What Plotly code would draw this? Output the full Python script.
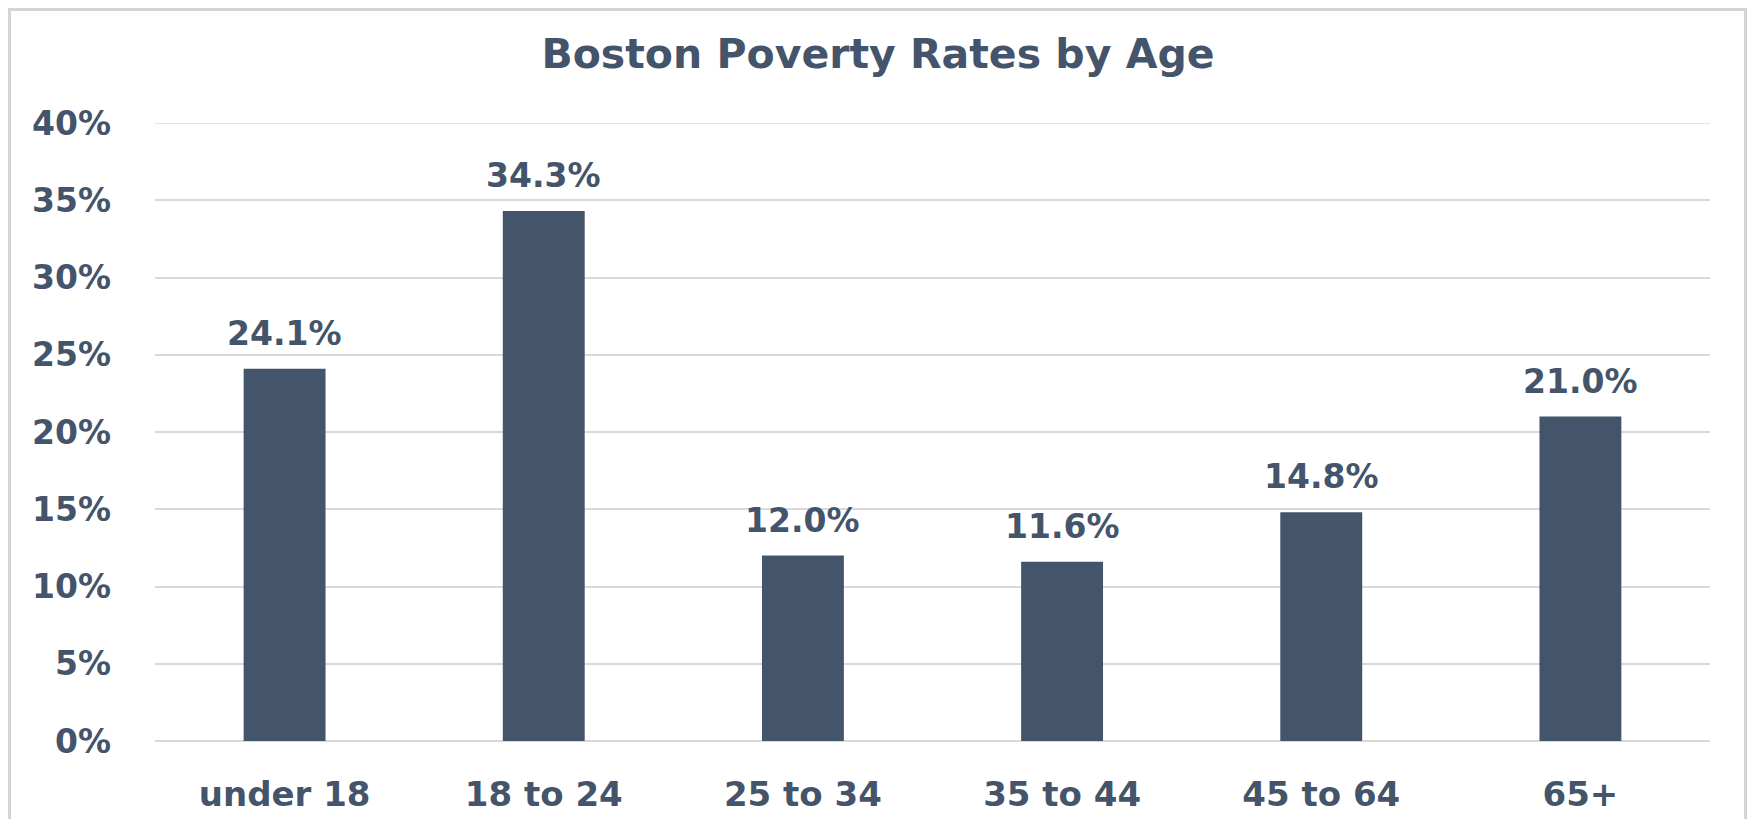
import plotly.graph_objects as go

categories = ["under 18", "18 to 24", "25 to 34", "35 to 44", "45 to 64", "65+"]
rates = [24.1, 34.3, 12.0, 11.6, 14.8, 21.0]
y_ticks = [0, 5, 10, 15, 20, 25, 30, 35, 40]
y_tick_labels = [f"{v}%" for v in y_ticks]
title_text = "Boston Poverty Rates by Age"

COLOR = "#44546A"
GRID = "#D9D9D9"
FONT = "DejaVu Sans"

# page body has an 8px default margin; figure is sized to fit inside it
OFF = 8
W, H = 1757 - 2 * OFF, 827 - 2 * OFF
L = 155 - OFF
T = 123 - OFF
R = W - (1710 - OFF)
B = H - (741 - OFF)

fig = go.Figure()
fig.add_trace(go.Bar(
    x=categories, y=rates,
    marker=dict(color=COLOR, line=dict(width=0)),
    hoverinfo="x+y",
))

for c, v in zip(categories, rates):
    fig.add_annotation(
        x=c, y=v, xref="x", yref="y",
        text=f"<b>{v:.1f}%</b>", showarrow=False,
        yanchor="bottom", yshift=14,
        font=dict(family=FONT, size=33, color=COLOR),
    )

# top gridline (40%)
fig.add_shape(type="line", xref="paper", yref="y", x0=0, x1=1,
              y0=y_ticks[-1], y1=y_ticks[-1],
              line=dict(color=GRID, width=1.5), layer="below")

pw = W - L - R
ph = H - T - B
def px_x(p):
    return (p - OFF - L) / pw
def px_y(p):
    return (H - B - (p - OFF)) / ph

# light outer frame of the chart area
fig.add_shape(type="rect", xref="paper", yref="paper",
              x0=px_x(9.5), x1=px_x(1745.5), y0=px_y(850), y1=px_y(9.5),
              line=dict(color="#D4D4D4", width=3), fillcolor="rgba(0,0,0,0)",
              layer="below")

fig.update_layout(
    width=W, height=H,
    margin=dict(l=L, r=R, t=T, b=B, pad=0, autoexpand=False),
    paper_bgcolor="white", plot_bgcolor="white",
    bargap=0.684,
    showlegend=False,
    title=dict(text=f"<b>{title_text}</b>",
               x=(878 - OFF) / W, xref="container", xanchor="center",
               y=1 - (54 - OFF) / H, yref="container", yanchor="middle",
               font=dict(family=FONT, size=41, color=COLOR)),
    font=dict(family=FONT, color=COLOR),
)
fig.update_xaxes(
    showgrid=False, showline=False, zeroline=False, ticks="",
    automargin=False,
    tickfont=dict(family=FONT, size=34, color=COLOR, weight="bold"),
    ticklabelstandoff=30,
)
fig.update_yaxes(
    range=[0, 40], tickvals=y_ticks, ticktext=y_tick_labels,
    automargin=False,
    showgrid=True, gridcolor=GRID, gridwidth=1.5,
    zeroline=True, zerolinecolor=GRID, zerolinewidth=1.5,
    showline=False, ticks="",
    tickfont=dict(family=FONT, size=33, color=COLOR, weight="bold"),
    ticklabelstandoff=43,
)

fig.write_html("out.html")
